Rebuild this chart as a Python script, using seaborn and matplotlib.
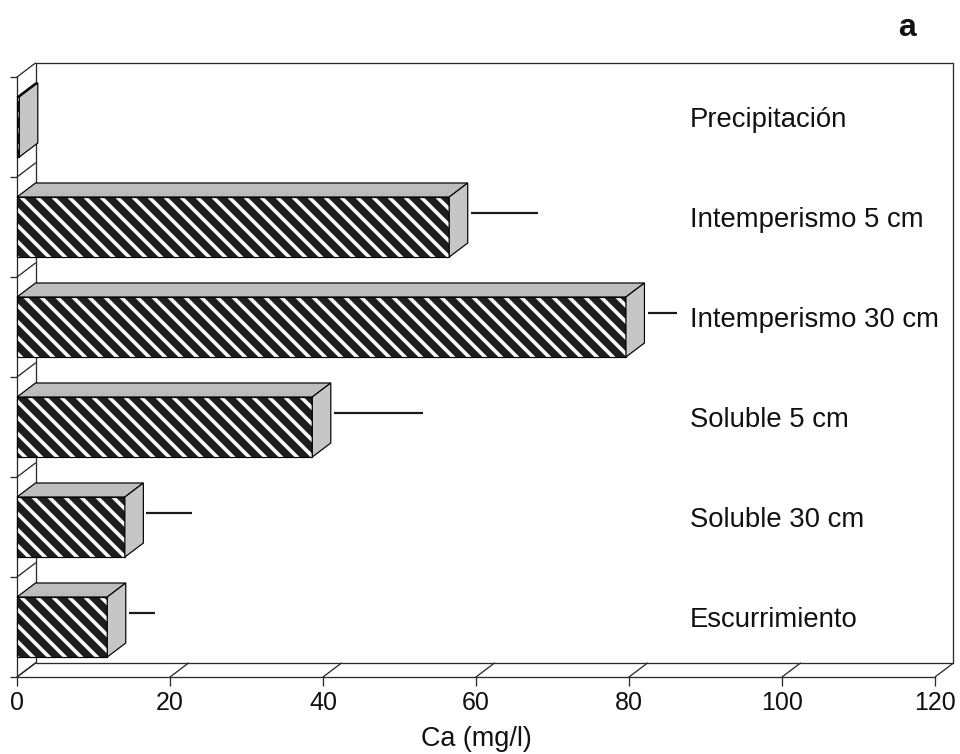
import numpy as np
import pandas as pd
import matplotlib
matplotlib.use("Agg")
import matplotlib.pyplot as plt
from matplotlib.patches import Polygon, Rectangle
import seaborn as sns

# ---- data ----
categories = ["Precipitación", "Intemperismo 5 cm", "Intemperismo 30 cm",
              "Soluble 5 cm", "Soluble 30 cm", "Escurrimiento"]
ca_mean = [0.3, 56.5, 79.6, 38.6, 14.1, 11.8]
ca_err = [0.0, 9.2, 4.3, 12.0, 6.4, 3.8]
x_ticks = [0, 20, 40, 60, 80, 100, 120]
x_label = "Ca (mg/l)"
panel_label = "a"

DPI = 48
PT = 72.0 / DPI  # points per pixel

sns.set_style("white")
plt.rcParams["font.family"] = ["Liberation Sans", "DejaVu Sans"]
plt.rcParams["hatch.linewidth"] = 3.6 * PT

fig = plt.figure(figsize=(960 / DPI, 754 / DPI), dpi=DPI)
L, R, B, T = 17, 935, 677, 77  # front plane in pixels
ax = fig.add_axes([L / 960, 1 - B / 754, (R - L) / 960, (B - T) / 754])

df = pd.DataFrame({"cat": categories, "val": ca_mean})
sns.barplot(data=df, x="val", y="cat", orient="h", width=0.6,
            color="#1e1e1e", saturation=1, ax=ax, zorder=3)

XMAX = x_ticks[-1]
ax.set_xlim(0, XMAX)
ax.set_ylim(len(categories) - 0.5, -0.5)

# depth offsets (pixels -> data units)
DXP, DYP = 18.5, 14.0
dx = DXP / ((R - L) / XMAX)
dy = DYP / ((B - T) / len(categories))
ylo, yhi = -0.5, len(categories) - 0.5

lc = "#2a2a2a"
lw = 1.3 * PT
# back wall
kw = dict(color=lc, lw=lw, clip_on=False, zorder=1)
ax.plot([dx, XMAX + dx], [ylo - dy, ylo - dy], **kw)
ax.plot([dx, XMAX + dx], [yhi - dy, yhi - dy], **kw)
ax.plot([dx, dx], [ylo - dy, yhi - dy], **kw)
ax.plot([XMAX + dx, XMAX + dx], [ylo - dy, yhi - dy], **kw)
# floor slants at x ticks
for t in x_ticks:
    ax.plot([t, t + dx], [yhi, yhi - dy], **kw)
# left wall slants at category separators
for s in np.arange(ylo, yhi + 0.01, 1.0):
    ax.plot([0, dx], [s, s - dy], **kw)

# 3D faces on bars
face_top = "#bdbdbd"
face_side = "#c6c6c6"
blw = 1.2 * PT
for p in list(ax.patches):
    x0, y0 = p.get_x(), p.get_y()
    w, h = p.get_width(), p.get_height()
    p.set_hatch("\\")
    p.set_edgecolor("white")
    p.set_linewidth(0)
    ax.add_patch(Rectangle((x0, y0), w, h, fill=False, ec="black", lw=blw,
                           zorder=4, clip_on=False))
    top = Polygon([[x0, y0], [x0 + w, y0], [x0 + w + dx, y0 - dy], [x0 + dx, y0 - dy]],
                  closed=True, fc=face_top, ec="black", lw=blw, zorder=4, clip_on=False)
    side = Polygon([[x0 + w, y0], [x0 + w, y0 + h], [x0 + w + dx, y0 + h - dy],
                    [x0 + w + dx, y0 - dy]],
                   closed=True, fc=face_side, ec="black", lw=blw, zorder=4, clip_on=False)
    ax.add_patch(top)
    ax.add_patch(side)

# error lines (drawn in the back plane, centre of bar)
ypos = np.arange(len(categories))
for yi, m, e in zip(ypos, ca_mean, ca_err):
    if e > 0:
        ax.hlines(yi - dy, m + dx + 0.4, m + e + dx, color="#1a1a1a", lw=2.2 * PT,
                  zorder=5, clip_on=False)

# category labels inside plot
for yi, c in zip(ypos, categories):
    ax.text(88.0, yi, c, ha="left", va="baseline", fontsize=27.5 * PT,
            color="#111111", zorder=6)

# axes styling
for sp in ["top", "right"]:
    ax.spines[sp].set_visible(False)
for sp in ["left", "bottom"]:
    ax.spines[sp].set_color(lc)
    ax.spines[sp].set_linewidth(lw)
ax.set_xticks(x_ticks)
ax.set_xticklabels([str(t) for t in x_ticks], fontsize=25 * PT, color="#111111")
ax.set_yticks(np.arange(ylo, yhi + 0.01, 1.0))
ax.set_yticklabels([])
ax.tick_params(axis="x", direction="out", length=9 * PT, width=lw, color=lc,
               pad=5 * PT, bottom=True)
ax.tick_params(axis="y", direction="out", length=7 * PT, width=lw, color=lc, left=True)
ax.set_ylabel("")
ax.set_xlabel(x_label, fontsize=27 * PT, color="#111111", labelpad=11 * PT)

fig.text(907 / 960, 1 - 36 / 754, panel_label, ha="center", va="baseline",
         fontsize=32 * PT, fontweight="bold", color="#111111")

fig.savefig("out.png", dpi=DPI, facecolor="white")
